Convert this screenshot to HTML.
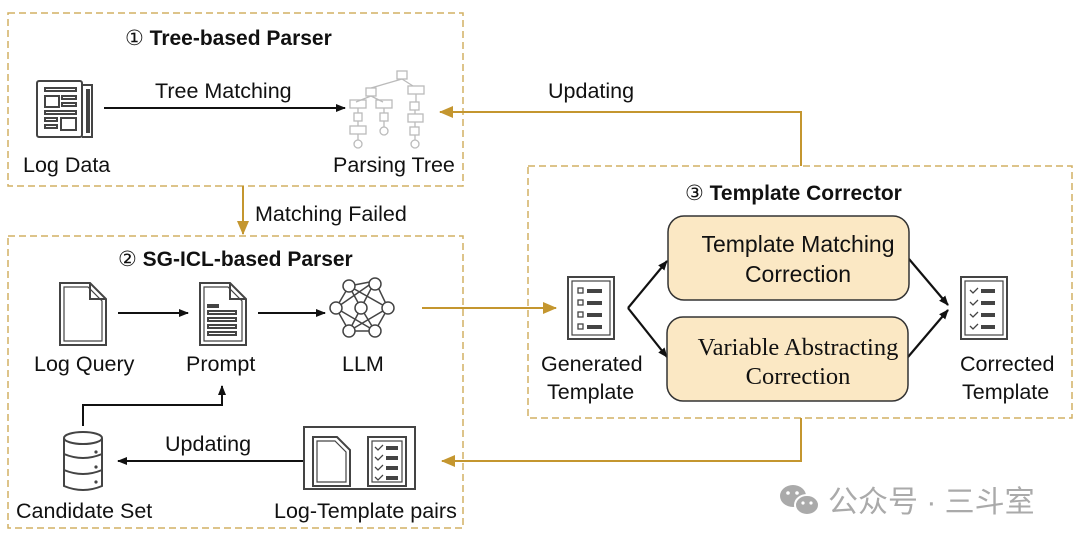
<!DOCTYPE html>
<html><head><meta charset="utf-8"><style>
html,body{margin:0;padding:0;background:#fff;}
svg{display:block}
text{font-family:"Liberation Sans",sans-serif;fill:#111;}
</style></head><body>
<svg width="1080" height="545" viewBox="0 0 1080 545" xmlns="http://www.w3.org/2000/svg">
<defs>
<marker id="ab" markerWidth="10" markerHeight="10" refX="9" refY="5" orient="auto" markerUnits="userSpaceOnUse"><path d="M0,1 L10,5 L0,9 Z" fill="#111"/></marker>
<marker id="ag" markerWidth="14" markerHeight="14" refX="13" refY="7" orient="auto" markerUnits="userSpaceOnUse"><path d="M0,1 L14,7 L0,13 Z" fill="#c4962f"/></marker>
</defs>
<g fill="none" stroke="#d2b064" stroke-width="1.5" stroke-dasharray="7,4">
<rect x="8" y="13" width="455" height="173"/>
<rect x="8" y="236" width="455" height="292"/>
<rect x="528" y="166" width="544" height="252"/>
</g>
<text x="125" y="45" font-size="21" font-weight="bold"><tspan font-weight="normal">①</tspan> Tree-based Parser</text>
<text x="118" y="266" font-size="21" font-weight="bold"><tspan font-weight="normal">②</tspan> SG-ICL-based Parser</text>
<text x="685" y="200" font-size="21" font-weight="bold"><tspan font-weight="normal">③</tspan> Template Corrector</text>
<g fill="none" stroke="#444" stroke-width="2">
<rect x="37" y="81" width="45" height="56" rx="2"/>
<path d="M82,85 H92 V137 H82"/>
<rect x="87" y="90" width="2" height="42"/>
<rect x="45" y="88" width="31" height="3"/>
<rect x="45" y="96" width="14" height="11"/><rect x="62" y="96" width="14" height="3"/><rect x="62" y="103" width="14" height="3"/>
<rect x="45" y="111" width="31" height="3"/>
<rect x="45" y="118" width="12" height="3"/><rect x="45" y="125" width="12" height="3"/><rect x="61" y="118" width="15" height="12"/>
</g>
<text x="23" y="172" font-size="21.5">Log Data</text>
<line x1="104" y1="108" x2="345" y2="108" stroke="#111" stroke-width="2" marker-end="url(#ab)"/>
<text x="155" y="98" font-size="21.5">Tree Matching</text>
<g fill="none" stroke="#bbb" stroke-width="1.3">
<rect x="397" y="71" width="10" height="8"/>
<path d="M402,79 L371,88 M402,79 L413,86 M371,96 L356,102 M371,96 L383,102"/>
<rect x="366" y="88" width="10" height="8"/><rect x="408" y="86" width="16" height="8"/>
<rect x="350" y="100" width="16" height="8"/><rect x="376" y="100" width="16" height="8"/>
<rect x="410" y="102" width="9" height="8"/><path d="M416,94 V102"/>
<path d="M358,108V113 M384,108V113 M415,110V114"/>
<rect x="354" y="113" width="8" height="8"/><rect x="380" y="113" width="8" height="8"/><rect x="408" y="114" width="15" height="8"/>
<path d="M358,121V126 M384,121V127 M415,122V127"/>
<rect x="350" y="126" width="16" height="8"/><circle cx="384" cy="131" r="4"/><rect x="410" y="127" width="9" height="8"/>
<path d="M358,134V140 M415,135V140"/>
<circle cx="358" cy="144" r="4"/><circle cx="415" cy="144" r="4"/>
</g>
<text x="333" y="172" font-size="21.5">Parsing Tree</text>
<line x1="243" y1="186" x2="243" y2="234" stroke="#c4962f" stroke-width="2" marker-end="url(#ag)"/>
<text x="255" y="221" font-size="21.5">Matching Failed</text>
<polyline points="801,166 801,112 440,112" fill="none" stroke="#c4962f" stroke-width="2" marker-end="url(#ag)"/>
<text x="548" y="98" font-size="21.5">Updating</text>
<g fill="none" stroke="#444" stroke-width="2">
<path d="M60,283 H90 L106,299 V345 H60 Z"/><path d="M64,287 H88 L102,301 V341 H64 Z" stroke-width="1.2"/><path d="M90,283 V299 H106"/>
<path d="M200,283 H230 L246,299 V345 H200 Z"/><path d="M204,287 H228 L242,301 V341 H204 Z" stroke-width="1.2"/><path d="M230,283 V299 H246"/>
<rect x="208" y="305" width="10" height="2"/><rect x="208" y="311" width="28" height="3"/><rect x="208" y="318" width="28" height="3"/><rect x="208" y="325" width="28" height="3"/><rect x="208" y="332" width="28" height="3"/>
</g>
<text x="34" y="371" font-size="21.5">Log Query</text>
<text x="186" y="371" font-size="21.5">Prompt</text>
<line x1="118" y1="313" x2="188" y2="313" stroke="#111" stroke-width="2" marker-end="url(#ab)"/>
<line x1="258" y1="313" x2="325" y2="313" stroke="#111" stroke-width="2" marker-end="url(#ab)"/>
<g stroke="#444" stroke-width="1.5" fill="none">
<path d="M349,286 L361,308 L375,281 M349,286 L388,308 M375,281 L336,308 M349,286 L336,308 M375,281 L388,308 M336,308 L349,331 L388,308 M336,308 L375,331 L388,308 M361,308 L349,331 M361,308 L375,331 M349,331 L375,331 M349,286 L375,281"/>
<g fill="#fff"><circle cx="349" cy="286" r="6"/><circle cx="375" cy="284" r="6"/><circle cx="336" cy="308" r="6"/><circle cx="361" cy="308" r="6"/><circle cx="388" cy="308" r="6"/><circle cx="349" cy="331" r="6"/><circle cx="375" cy="331" r="6"/></g>
</g>
<text x="342" y="371" font-size="21.5">LLM</text>
<line x1="422" y1="308" x2="556" y2="308" stroke="#c4962f" stroke-width="2" marker-end="url(#ag)"/>
<polyline points="83,426 83,405 222,405 222,386" fill="none" stroke="#111" stroke-width="2" marker-end="url(#ab)"/>
<g fill="none" stroke="#444" stroke-width="2">
<ellipse cx="83" cy="438" rx="19" ry="6"/>
<path d="M64,438 V486 Q83,494 102,486 V438 M64,454 Q83,462 102,454 M64,470 Q83,478 102,470"/>
</g>
<g fill="#444"><circle cx="96" cy="452" r="1.6"/><circle cx="96" cy="467" r="1.6"/><circle cx="96" cy="482" r="1.6"/></g>
<text x="16" y="518" font-size="21.5">Candidate Set</text>
<line x1="303" y1="461" x2="118" y2="461" stroke="#111" stroke-width="2" marker-end="url(#ab)"/>
<text x="165" y="451" font-size="21.5">Updating</text>
<g fill="none" stroke="#444" stroke-width="2">
<rect x="304" y="427" width="111" height="62"/>
<path d="M313,437 H337 L350,450 V486 H313 Z"/><path d="M317,441 H335 L346,452 V482 H317 Z" stroke-width="1.2"/>
<rect x="368" y="437" width="38" height="49"/><rect x="372" y="441" width="30" height="41" stroke-width="1.2"/>
<path d="M375,447l3,3 5,-5 M375,457l3,3 5,-5 M375,467l3,3 5,-5 M375,477l3,3 5,-5" stroke-width="1.3"/>
<rect x="387" y="447" width="10" height="2"/><rect x="387" y="457" width="10" height="2"/><rect x="387" y="467" width="10" height="2"/><rect x="387" y="477" width="10" height="2"/>
</g>
<text x="274" y="518" font-size="21.5">Log-Template pairs</text>
<polyline points="801,418 801,461 442,461" fill="none" stroke="#c4962f" stroke-width="2" marker-end="url(#ag)"/>
<g fill="none" stroke="#444" stroke-width="2">
<rect x="568" y="277" width="46" height="62"/><rect x="572" y="281" width="38" height="54" stroke-width="1.2"/>
<rect x="578" y="288" width="5" height="5" stroke-width="1.3"/><rect x="578" y="300" width="5" height="5" stroke-width="1.3"/><rect x="578" y="312" width="5" height="5" stroke-width="1.3"/><rect x="578" y="324" width="5" height="5" stroke-width="1.3"/>
<rect x="588" y="290" width="13" height="2"/><rect x="588" y="302" width="13" height="2"/><rect x="588" y="314" width="13" height="2"/><rect x="588" y="326" width="13" height="2"/>
</g>
<text x="541" y="371" font-size="21.5">Generated</text>
<text x="547" y="399" font-size="21.5">Template</text>
<g stroke="#111" stroke-width="2.2" fill="none">
<line x1="628" y1="308" x2="667" y2="261" marker-end="url(#ab)"/>
<line x1="628" y1="308" x2="667" y2="357" marker-end="url(#ab)"/>
<line x1="909" y1="259" x2="948" y2="305" marker-end="url(#ab)"/>
<line x1="908" y1="357" x2="948" y2="310" marker-end="url(#ab)"/>
</g>
<rect x="668" y="216" width="241" height="84" rx="16" fill="#fbe8c4" stroke="#333" stroke-width="1.5"/>
<rect x="667" y="317" width="241" height="84" rx="16" fill="#fbe8c4" stroke="#333" stroke-width="1.5"/>
<text x="798" y="252" font-size="23" text-anchor="middle">Template Matching</text>
<text x="798" y="282" font-size="23" text-anchor="middle">Correction</text>
<text x="798" y="355" font-size="24.5" text-anchor="middle" style="font-family:'Liberation Serif',serif">Variable Abstracting</text>
<text x="798" y="384" font-size="24.5" text-anchor="middle" style="font-family:'Liberation Serif',serif">Correction</text>
<g fill="none" stroke="#444" stroke-width="2">
<rect x="961" y="277" width="46" height="62"/><rect x="965" y="281" width="38" height="54" stroke-width="1.2"/>
<path d="M970,290l3,3 5,-5 M970,302l3,3 5,-5 M970,314l3,3 5,-5 M970,326l3,3 5,-5" stroke-width="1.3"/>
<rect x="982" y="290" width="12" height="2"/><rect x="982" y="302" width="12" height="2"/><rect x="982" y="314" width="12" height="2"/><rect x="982" y="326" width="12" height="2"/>
</g>
<text x="960" y="371" font-size="21.5">Corrected</text>
<text x="962" y="399" font-size="21.5">Template</text>
<g fill="#aaa">
<ellipse cx="793" cy="496" rx="13" ry="11"/>
<ellipse cx="807" cy="505" rx="12" ry="10" stroke="#fff" stroke-width="2"/>
</g>
<g fill="#fff"><circle cx="788" cy="493" r="1.8"/><circle cx="797" cy="493" r="1.8"/><circle cx="803" cy="503" r="1.6"/><circle cx="811" cy="503" r="1.6"/></g>
<text x="828" y="512" font-size="30" style="fill:#aaa;font-family:'Liberation Sans','Noto Sans CJK SC',sans-serif">公众号 · 三斗室</text>
</svg>
</body></html>
